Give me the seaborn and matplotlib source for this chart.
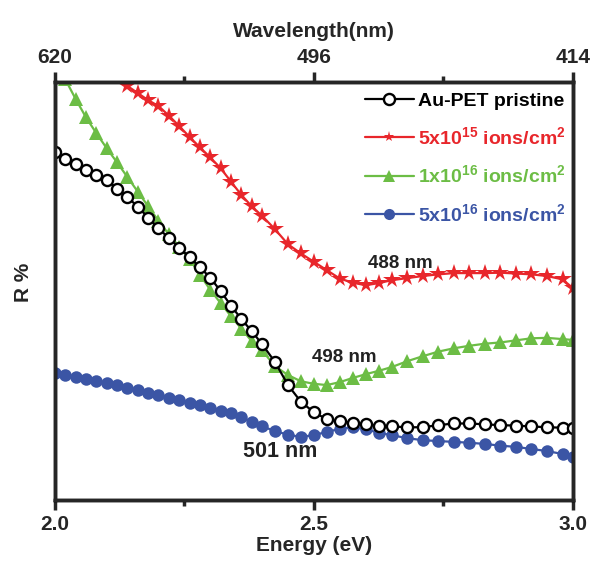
import numpy as np
import pandas as pd
import matplotlib
matplotlib.use("Agg")
import matplotlib.pyplot as plt
import seaborn as sns

sns.set_style("white")
plt.rcParams['font.family'] = ['Liberation Sans', 'DejaVu Sans']
plt.rcParams['font.weight'] = 'bold'
plt.rcParams['mathtext.fontset'] = 'custom'
plt.rcParams['mathtext.bf'] = 'Liberation Sans:bold'
plt.rcParams['mathtext.rm'] = 'Liberation Sans:bold'
plt.rcParams['mathtext.default'] = 'bf'

# ---- data ----
energy = [2.00, 2.02, 2.04, 2.06, 2.08, 2.10, 2.12, 2.14, 2.16, 2.18,
          2.20, 2.22, 2.24, 2.26, 2.28, 2.30, 2.32, 2.34, 2.36, 2.38, 2.40,
          2.425, 2.45, 2.475, 2.50, 2.525, 2.55, 2.575, 2.60, 2.625, 2.65,
          2.68, 2.71, 2.74, 2.77, 2.80, 2.83, 2.86, 2.89, 2.92, 2.95, 2.98, 3.00]

pristine = [83.3, 81.7, 80.3, 79.0, 77.7, 76.6, 74.5, 72.5, 70.2, 67.6,
            65.0, 62.7, 60.4, 58.1, 55.7, 53.2, 50.0, 46.5, 43.3, 40.4, 37.3,
            33.0, 27.5, 23.5, 21.0, 19.3, 18.8, 18.5, 18.1, 17.8, 17.6,
            17.4, 17.4, 17.9, 18.3, 18.3, 18.1, 17.9, 17.8, 17.6, 17.4, 17.3, 17.2]

energy_red = energy[6:]
dose_5e15 = [101.5, 99.1, 97.4, 95.7, 94.3, 92.0, 89.5, 86.9, 84.4, 82.0,
             79.4, 76.2, 73.0, 70.3, 68.0,
             64.8, 61.2, 59.0, 57.0, 55.0, 53.0, 52.0, 51.4, 51.9, 52.6,
             53.1, 53.6, 54.0, 54.3, 54.3, 54.3, 54.4, 54.2, 54.0, 53.6, 52.8, 50.7]

energy_green = energy[1:]
dose_1e16 = [100.7, 96.0, 91.6, 87.8, 84.2, 80.8, 77.3, 73.8, 70.3, 66.8,
             63.6, 60.6, 57.7, 53.9, 50.3, 47.1, 44.0, 41.0, 38.0, 35.8,
             32.0, 29.9, 28.4, 27.8, 27.5, 28.2, 29.2, 30.1, 30.9, 31.8,
             33.2, 34.4, 35.5, 36.3, 36.9, 37.4, 37.7, 38.2, 38.7, 38.8, 38.5, 38.3]

dose_5e16 = [30.4, 29.9, 29.4, 28.9, 28.4, 27.9, 27.4, 26.8, 26.2, 25.7,
             25.1, 24.5, 23.9, 23.3, 22.7, 22.1, 21.4, 20.7, 19.8, 18.7, 17.6,
             16.5, 15.6, 15.1, 15.5, 16.3, 17.0, 17.4, 16.9, 16.1, 15.5,
             14.8, 14.3, 14.1, 13.9, 13.7, 13.4, 13.0, 12.7, 12.2, 11.7, 11.0, 10.3]

labels = ['Au-PET pristine',
          r'5x10$^{15}$ ions/cm$^{2}$',
          r'1x10$^{16}$ ions/cm$^{2}$',
          r'5x10$^{16}$ ions/cm$^{2}$']
colors = ['black', '#e8262b', '#6cbd45', '#3b55a5']

energy_ticks = [2.0, 2.5, 3.0]
energy_ticklabels = ['2.0', '2.5', '3.0']
wavelength_ticklabels = ['620', '496', '414']
minor_ticks = [2.25, 2.75]

annotations = [('488 nm', 2.667, 56.5, 13.5), ('498 nm', 2.558, 34.0, 13.5), ('501 nm', 2.435, 11.5, 15.5)]

# ---- figure ----
fig = plt.figure(figsize=(5.9, 5.63), dpi=100)
ax = fig.add_axes([0.093, 0.112, 0.878, 0.742])

sns.lineplot(x=energy, y=pristine, ax=ax, color=colors[0], lw=1.6, marker='o',
             markersize=8, markerfacecolor='white', markeredgecolor='black',
             markeredgewidth=1.7, label=labels[0], zorder=3)
sns.lineplot(x=energy_red, y=dose_5e15, ax=ax, color=colors[1], lw=1.6, marker='*',
             markersize=13, markeredgewidth=0, label=labels[1], zorder=2)
sns.lineplot(x=energy_green, y=dose_1e16, ax=ax, color=colors[2], lw=1.6, marker='^',
             markersize=10, markeredgewidth=0, label=labels[2], zorder=2)
sns.lineplot(x=energy, y=dose_5e16, ax=ax, color=colors[3], lw=1.6, marker='o',
             markersize=9, markeredgewidth=0, label=labels[3], zorder=2)

ax.set_xlim(2.0, 3.0)
ax.set_ylim(0, 100)
ax.set_xticks(energy_ticks)
ax.set_xticklabels(energy_ticklabels, fontsize=15, fontweight='bold')
ax.set_xticks(minor_ticks, minor=True)
ax.set_yticks([])
ax.tick_params(axis='x', which='major', direction='out', length=7, width=2.5, pad=4, bottom=True)
ax.tick_params(axis='x', which='minor', direction='out', length=4, width=2.5, bottom=True)
ax.set_xlabel('Energy (eV)', fontsize=15, fontweight='bold', labelpad=1)
ax.set_ylabel('R %', fontsize=15, fontweight='bold')
ax.yaxis.set_label_coords(-0.042, 0.52)
for s in ax.spines.values():
    s.set_linewidth(2.5)
    s.set_color('black')
    s.set_visible(True)

ax2 = ax.twiny()
ax2.set_xlim(ax.get_xlim())
ax2.set_xticks(energy_ticks)
ax2.set_xticklabels(wavelength_ticklabels, fontsize=15, fontweight='bold')
ax2.set_xticks(minor_ticks, minor=True)
ax2.tick_params(axis='x', which='major', direction='out', length=7, width=2.5, pad=4, top=True)
ax2.tick_params(axis='x', which='minor', direction='out', length=4, width=2.5, top=True)
ax2.set_xlabel('Wavelength(nm)', fontsize=15, fontweight='bold', labelpad=8)
for s in ax2.spines.values():
    s.set_linewidth(2.5)

for txt, x, y, fs in annotations:
    ax.text(x, y, txt, ha='center', va='center', fontsize=fs, fontweight='bold', color='#222222')

leg = ax.legend(loc='upper right', bbox_to_anchor=(1.0, 0.995), frameon=False,
                fontsize=14, handlelength=2.5, handletextpad=0.2, labelspacing=0.85,
                borderaxespad=0.2, borderpad=0.2)
for t, c in zip(leg.get_texts(), colors):
    t.set_color(c)
    t.set_fontweight('bold')
for h in leg.legend_handles:
    h.set_markersize(8)

fig.savefig('out.png', dpi=100)
